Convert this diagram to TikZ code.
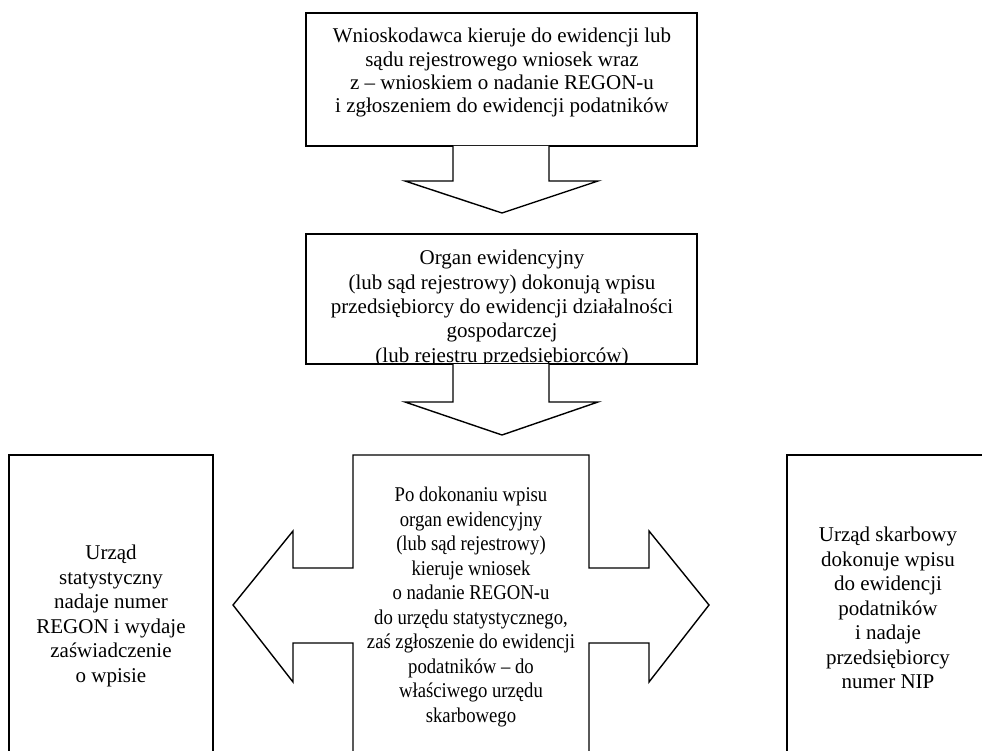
\documentclass[tikz,border=0pt]{standalone}
\usepackage{fontspec}
\setmainfont{Liberation Serif}
\newfontfamily\narrowserif[FakeStretch=0.89]{Liberation Serif}
\begin{document}
\begin{tikzpicture}[x=1pt,y=-1pt,
  outline/.style={draw=black, line width=1.4pt, line join=miter, fill=white},
  boxtext/.style={inner sep=0pt, align=center, anchor=north, font=\fontsize{21}{23.3}\selectfont},
  sidetext/.style={inner sep=0pt, align=center, anchor=north, font=\fontsize{21}{24.5}\selectfont},
  midtext/.style={sidetext, font=\narrowserif\fontsize{21}{24.5}\selectfont}]
  \path[use as bounding box, clip] (0,0) rectangle (982,751);

  % first step and its down arrow
  \draw[outline] (306,13) rectangle (697,146);
  \draw[outline] (453,146) -- (453,181) -- (405,181) -- (502,213) -- (598,181) -- (549,181) -- (549,146);
  \node[boxtext] (apply) at (502,28.2)
    {Wnioskodawca kieruje do ewidencji lub\\sądu rejestrowego wniosek wraz\\z – wnioskiem o nadanie REGON-u\\i zgłoszeniem do ewidencji podatników};

  % second step, its last line cut by the box edge
  \draw[outline] (306,234) rectangle (697,364);
  \begin{scope}
    \clip (306,234) rectangle (697,364);
    \node[sidetext, font=\fontsize{21}{24.4}\selectfont] (entry) at (502,250)
      {Organ ewidencyjny\\(lub sąd rejestrowy) dokonują wpisu\\przedsiębiorcy do ewidencji działalności\\gospodarczej\\(lub rejestru przedsiębiorców)};
  \end{scope}
  \draw[line width=1.4pt] (306,364) -- (697,364);
  \draw[outline] (453,364) -- (453,402) -- (405,402) -- (502,435) -- (598,402) -- (549,402) -- (549,364);

  % third step with arrows to both sides
  \draw[outline] (353,770) -- (353,643) -- (293,643) -- (293,682) -- (233,605) -- (293,531) -- (293,568) -- (353,568)
    -- (353,455) -- (589,455) -- (589,568) -- (649,568) -- (649,531) -- (709,605) -- (649,682) -- (649,643) -- (589,643) -- (589,770);
  \node[midtext] (forward) at (471,487)
    {Po dokonaniu wpisu\\organ ewidencyjny\\(lub sąd rejestrowy)\\kieruje wniosek\\o nadanie REGON-u\\do urzędu statystycznego,\\zaś zgłoszenie do ewidencji\\podatników – do\\właściwego urzędu\\skarbowego};

  % side boxes
  \draw[outline] (9,770) -- (9,455) -- (213,455) -- (213,770);
  \node[sidetext] (stat) at (111,545)
    {Urząd\\statystyczny\\nadaje numer\\REGON i wydaje\\zaświadczenie\\o wpisie};
  \draw[outline] (787,770) -- (787,455) -- (1000,455);
  \node[sidetext] (tax) at (888,527)
    {Urząd skarbowy\\dokonuje wpisu\\do ewidencji\\podatników\\i nadaje\\przedsiębiorcy\\numer NIP};
\end{tikzpicture}
\end{document}
